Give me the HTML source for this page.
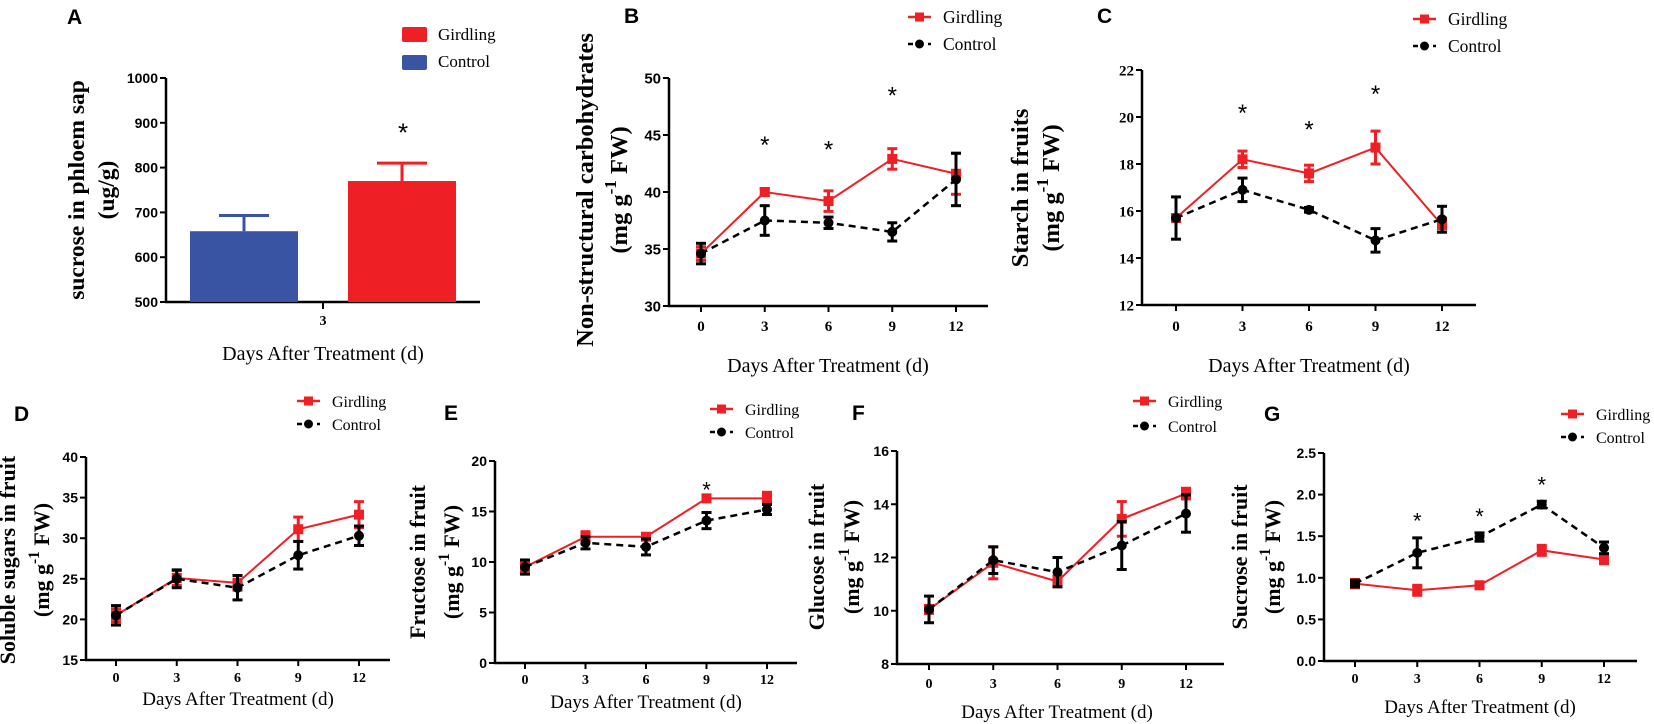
<!DOCTYPE html>
<html><head><meta charset="utf-8"><style>
html,body{margin:0;padding:0;background:#fff;}
svg{display:block;}
</style></head><body>
<svg id="fig" width="1654" height="724" viewBox="0 0 1654 724" xmlns="http://www.w3.org/2000/svg"></svg>
<script>
// ---------- data ----------
const days = [0, 3, 6, 9, 12];
// A
const aCats = ["Control", "Girdling"];
const aVals = [658, 770];
const aErr = [35, 40];
const aStarVal = 890;
const aTicks = [500, 600, 700, 800, 900, 1000];
// B
const bGird = [34.6, 40.0, 39.2, 42.9, 41.6];
const bGirdErr = [0.6, 0.3, 0.9, 0.9, 1.8];
const bCtrl = [34.6, 37.5, 37.3, 36.5, 41.1];
const bCtrlErr = [0.9, 1.3, 0.5, 0.8, 2.3];
const bStarDays = [3, 6, 9];
const bStarVals = [44.6, 44.2, 48.9];
const bTicks = [30, 35, 40, 45, 50];
// C
const cGird = [15.7, 18.2, 17.6, 18.7, 15.4];
const cGirdErr = [0.1, 0.35, 0.35, 0.7, 0.3];
const cCtrl = [15.7, 16.9, 16.05, 14.75, 15.65];
const cCtrlErr = [0.9, 0.5, 0.1, 0.5, 0.55];
const cStarDays = [3, 6, 9];
const cStarVals = [20.4, 19.7, 21.2];
const cTicks = [12, 14, 16, 18, 20, 22];
// D
const dGird = [20.5, 25.1, 24.5, 31.1, 32.9];
const dGirdErr = [0.8, 0.9, 0.9, 1.5, 1.6];
const dCtrl = [20.5, 25.0, 23.9, 27.9, 30.3];
const dCtrlErr = [1.2, 1.1, 1.5, 1.7, 1.2];
const dStarDays = [];
const dStarVals = [];
const dTicks = [15, 20, 25, 30, 35, 40];
// E
const eGird = [9.5, 12.5, 12.5, 16.3, 16.3];
const eGirdErr = [0.4, 0.5, 0.3, 0.3, 0.6];
const eCtrl = [9.5, 11.9, 11.5, 14.1, 15.2];
const eCtrlErr = [0.7, 0.6, 0.8, 0.8, 0.5];
const eStarDays = [9];
const eStarVals = [17.6];
const eTicks = [0, 5, 10, 15, 20];
// F
const fGird = [10.05, 11.8, 11.1, 13.45, 14.4];
const fGirdErr = [0.15, 0.6, 0.2, 0.65, 0.2];
const fCtrl = [10.05, 11.9, 11.45, 12.45, 13.65];
const fCtrlErr = [0.5, 0.5, 0.55, 0.9, 0.7];
const fStarDays = [];
const fStarVals = [];
const fTicks = [8, 10, 12, 14, 16];
// G
const gGird = [0.93, 0.85, 0.91, 1.33, 1.22];
const gGirdErr = [0.05, 0.06, 0.04, 0.06, 0.05];
const gCtrl = [0.93, 1.30, 1.49, 1.88, 1.36];
const gCtrlErr = [0.04, 0.18, 0.05, 0.04, 0.07];
const gStarDays = [3, 6, 9];
const gStarVals = [1.74, 1.79, 2.17];
const gTicks = ["0.0", "0.5", "1.0", "1.5", "2.0", "2.5"];

// ---------- helpers ----------
const NS = "http://www.w3.org/2000/svg";
const svg = document.getElementById("fig");
const SERIF = '"Liberation Serif", serif';
const SANS = '"Liberation Sans", sans-serif';
const RED = "#ee1f25", BLUE = "#3a54a4";

function mk(tag, parent, name, attrs) {
  const e = document.createElementNS(NS, tag);
  
  
  for (const k in attrs) e.setAttribute(k, attrs[k]);
  parent.appendChild(e);
  return e;
}
function txt(parent, name, x, y, s, size, fam, weight, anchor, extra) {
  const t = mk("text", parent, name, Object.assign({x: x, y: y, "font-size": size, "font-family": fam, "font-weight": weight || "normal", "text-anchor": anchor || "middle", fill: "#000"}, extra || {}));
  t.textContent = s;
  return t;
}
function ylabel(parent, name, cx, cy, size, main, unit) {
  const t = mk("text", parent, name, {transform: "translate(" + cx + "," + cy + ") rotate(-90)", "font-size": size, "font-family": SERIF, "font-weight": "bold", "text-anchor": "middle", fill: "#000"});
  if (unit) {
    const a = mk("tspan", t, "unit-part", {}); a.textContent = "(mg g";
    const b = mk("tspan", t, "unit-superscript", {dy: -size * 0.45, "font-size": size * 0.7}); b.textContent = "-1";
    const c = mk("tspan", t, "unit-part", {dy: size * 0.45}); c.textContent = " FW)";
  } else t.textContent = main;
  return t;
}
function legend(parent, lx, gBase, cBase, size) {
  const lg = mk("g", parent, "legend", {});
  const y1 = gBase - 6, y2 = cBase - 6;
  mk("line", lg, "legend-girdling-line", {x1: lx, y1: y1, x2: lx + 23, y2: y1, stroke: RED, "stroke-width": 2.5});
  mk("rect", lg, "legend-girdling-marker", {x: lx + 7, y: y1 - 4.5, width: 9, height: 9, fill: RED});
  txt(lg, "legend-girdling-label", lx + 35, gBase, "Girdling", size, SERIF, "normal", "start");
  mk("line", lg, "legend-control-line", {x1: lx, y1: y2, x2: lx + 23, y2: y2, stroke: "#000", "stroke-width": 2.5, "stroke-dasharray": "5,5"});
  mk("circle", lg, "legend-control-marker", {cx: lx + 11.5, cy: y2, r: 4.5, fill: "#000"});
  txt(lg, "legend-control-label", lx + 35, cBase, "Control", size, SERIF, "normal", "start");
}

function linePanel(p) {
  const g = mk("g", svg, "panel-" + p.id, {});
  const ymin = parseFloat(p.ticks[0]), ymax = parseFloat(p.ticks[p.ticks.length - 1]);
  const Y = v => p.yBot - (v - ymin) / (ymax - ymin) * (p.yBot - p.yTop);
  const X = d => p.x0t + (d - days[0]) / (days[days.length - 1] - days[0]) * (p.x12t - p.x0t);
  txt(g, "panel-letter-" + p.id, p.lx, p.ly, p.id, p.lsize, SANS, "bold", "start");
  mk("line", g, "y-axis", {x1: p.ax, y1: p.yTop, x2: p.ax, y2: p.yBot + 1, stroke: "#000", "stroke-width": 2.5});
  mk("line", g, "x-axis", {x1: p.ax - 1, y1: p.yBot, x2: p.axEnd, y2: p.yBot, stroke: "#000", "stroke-width": 2.5});
  p.ticks.forEach(t => {
    const v = parseFloat(t), y = Y(v);
    mk("line", g, "y-tick", {x1: p.ax - 6, y1: y, x2: p.ax, y2: y, stroke: "#000", "stroke-width": 2});
    txt(g, "y-tick-label", p.ax - 8, y + p.tsize * 0.36, String(t), p.tsize, p.yfam, "bold", "end");
  });
  days.forEach(d => {
    const x = X(d);
    mk("line", g, "x-tick", {x1: x, y1: p.yBot, x2: x, y2: p.yBot + 6, stroke: "#000", "stroke-width": 2});
    txt(g, "x-tick-label", x, p.tickBase, String(d), p.tsize, SERIF, "bold", "middle");
  });
  txt(g, "x-axis-title", p.titleX, p.titleBase, "Days After Treatment (d)", p.titleSize, SERIF, "normal", "middle");
  ylabel(g, "y-axis-title", p.yl1x, p.ylcy, p.ylsize, p.ylText, false);
  ylabel(g, "y-axis-unit", p.yl2x, p.ylcy, p.ylsize, "", true);
  function series(vals, errs, color, dashed, marker, name) {
    const sg = mk("g", g, "series-" + name, {});
    const pts = days.map((d, i) => X(d) + "," + Y(vals[i])).join(" ");
    const la = {points: pts, fill: "none", stroke: color, "stroke-width": dashed ? 2.5 : 2};
    if (dashed) la["stroke-dasharray"] = "7,5";
    mk("polyline", sg, "line-" + name, la);
    days.forEach((d, i) => {
      const x = X(d), yt = Y(vals[i] + errs[i]), yb = Y(vals[i] - errs[i]);
      mk("line", sg, "error-bar", {x1: x, y1: yt, x2: x, y2: yb, stroke: color, "stroke-width": 3});
      mk("line", sg, "error-cap", {x1: x - 5, y1: yt, x2: x + 5, y2: yt, stroke: color, "stroke-width": 3});
      mk("line", sg, "error-cap", {x1: x - 5, y1: yb, x2: x + 5, y2: yb, stroke: color, "stroke-width": 3});
      if (marker === "square") mk("rect", sg, "point-" + name + "-day" + d, {x: x - 5, y: Y(vals[i]) - 5, width: 10, height: 10, fill: color});
      else mk("circle", sg, "point-" + name + "-day" + d, {cx: x, cy: Y(vals[i]), r: 5, fill: color});
    });
  }
  series(p.gird, p.girdErr, RED, false, "square", "girdling");
  series(p.ctrl, p.ctrlErr, "#000", true, "circle", "control");
  p.starDays.forEach((d, i) => {
    txt(g, "significance-star", X(d), Y(p.starVals[i]) + p.starSize * 0.55, "*", p.starSize, SANS, "normal", "middle");
  });
  legend(g, p.legX, p.legG, p.legC, p.legSize);
}

// ---------- panel A ----------
(function () {
  const g = mk("g", svg, "panel-A", {});
  const yTop = 78, yBot = 302, ax = 166, axEnd = 480;
  const Y = v => yBot - (v - aTicks[0]) / (aTicks[aTicks.length - 1] - aTicks[0]) * (yBot - yTop);
  txt(g, "panel-letter-A", 67, 24, "A", 21, SANS, "bold", "start");
  mk("line", g, "y-axis", {x1: ax, y1: yTop, x2: ax, y2: yBot + 1, stroke: "#000", "stroke-width": 2.5});
  mk("line", g, "x-axis", {x1: ax - 1, y1: yBot, x2: axEnd, y2: yBot, stroke: "#000", "stroke-width": 2.5});
  aTicks.forEach(t => {
    const y = Y(t);
    mk("line", g, "y-tick", {x1: ax - 6, y1: y, x2: ax, y2: y, stroke: "#000", "stroke-width": 2});
    txt(g, "y-tick-label", ax - 8, y + 5, String(t), 14, SANS, "bold", "end");
  });
  mk("line", g, "x-tick", {x1: 323, y1: yBot, x2: 323, y2: yBot + 7, stroke: "#000", "stroke-width": 2});
  txt(g, "x-tick-label", 323, 325, "3", 14, SERIF, "bold", "middle");
  const barX = [190, 348], barW = 108, colors = [BLUE, RED];
  aVals.forEach((v, i) => {
    const cx = barX[i] + barW / 2;
    mk("line", g, "error-bar-" + aCats[i].toLowerCase(), {x1: cx, y1: Y(v), x2: cx, y2: Y(v + aErr[i]), stroke: colors[i], "stroke-width": 3});
    mk("line", g, "error-cap-" + aCats[i].toLowerCase(), {x1: cx - 25, y1: Y(v + aErr[i]), x2: cx + 25, y2: Y(v + aErr[i]), stroke: colors[i], "stroke-width": 3});
    mk("rect", g, "bar-" + aCats[i].toLowerCase(), {x: barX[i], y: Y(v), width: barW, height: yBot - Y(v), fill: colors[i]});
  });
  txt(g, "significance-star", 403, Y(aStarVal) + 14, "*", 26, SANS, "normal", "middle");
  txt(g, "x-axis-title", 323, 360, "Days After Treatment (d)", 20, SERIF, "normal", "middle");
  ylabel(g, "y-axis-title", 84, 190, 23.5, "sucrose  in phloem sap", false);
  ylabel(g, "y-axis-unit", 114, 190, 23.5, "(ug/g)", false);
  const lg = mk("g", g, "legend", {});
  mk("rect", lg, "legend-girdling-swatch", {x: 402, y: 27, width: 25, height: 15, rx: 2, fill: RED});
  txt(lg, "legend-girdling-label", 438, 40, "Girdling", 17, SERIF, "normal", "start");
  mk("rect", lg, "legend-control-swatch", {x: 402, y: 55, width: 25, height: 15, rx: 2, fill: BLUE});
  txt(lg, "legend-control-label", 438, 67, "Control", 17, SERIF, "normal", "start");
})();

// ---------- line panels ----------
linePanel({id: "B", lx: 624, ly: 23, lsize: 21, ax: 669, axEnd: 988, yTop: 78, yBot: 306, ticks: bTicks, x0t: 701, x12t: 956,
  tsize: 15, yfam: SANS, tickBase: 331, titleX: 828, titleBase: 372, titleSize: 20,
  yl1x: 593, yl2x: 627, ylcy: 190, ylsize: 24.5, ylText: "Non-structural carbohydrates",
  gird: bGird, girdErr: bGirdErr, ctrl: bCtrl, ctrlErr: bCtrlErr, starDays: bStarDays, starVals: bStarVals, starSize: 24,
  legX: 908, legG: 23, legC: 50, legSize: 17.5});
linePanel({id: "C", lx: 1097, ly: 23, lsize: 21, ax: 1142, axEnd: 1476, yTop: 70, yBot: 305, ticks: cTicks, x0t: 1176, x12t: 1442,
  tsize: 15, yfam: SERIF, tickBase: 331, titleX: 1309, titleBase: 372, titleSize: 20,
  yl1x: 1028, yl2x: 1059, ylcy: 188, ylsize: 24.5, ylText: "Starch in fruits",
  gird: cGird, girdErr: cGirdErr, ctrl: cCtrl, ctrlErr: cCtrlErr, starDays: cStarDays, starVals: cStarVals, starSize: 24,
  legX: 1413, legG: 25, legC: 52, legSize: 17.5});
linePanel({id: "D", lx: 14, ly: 421, lsize: 21, ax: 86, axEnd: 390, yTop: 457, yBot: 660, ticks: dTicks, x0t: 116, x12t: 359,
  tsize: 14, yfam: SANS, tickBase: 682, titleX: 238, titleBase: 705, titleSize: 19,
  yl1x: 15, yl2x: 49, ylcy: 560, ylsize: 22, ylText: "Soluble sugars in fruit",
  gird: dGird, girdErr: dGirdErr, ctrl: dCtrl, ctrlErr: dCtrlErr, starDays: dStarDays, starVals: dStarVals, starSize: 22,
  legX: 297, legG: 407, legC: 430, legSize: 16});
linePanel({id: "E", lx: 444, ly: 420, lsize: 21, ax: 495, axEnd: 797, yTop: 461, yBot: 663, ticks: eTicks, x0t: 525, x12t: 767,
  tsize: 14, yfam: SANS, tickBase: 684, titleX: 646, titleBase: 708, titleSize: 19,
  yl1x: 425, yl2x: 459, ylcy: 562, ylsize: 22, ylText: "Fructose in fruit",
  gird: eGird, girdErr: eGirdErr, ctrl: eCtrl, ctrlErr: eCtrlErr, starDays: eStarDays, starVals: eStarVals, starSize: 22,
  legX: 710, legG: 415, legC: 438, legSize: 16});
linePanel({id: "F", lx: 852, ly: 420, lsize: 21, ax: 897, axEnd: 1224, yTop: 451, yBot: 664, ticks: fTicks, x0t: 929, x12t: 1186,
  tsize: 14, yfam: SANS, tickBase: 688, titleX: 1057, titleBase: 718, titleSize: 19,
  yl1x: 824, yl2x: 859, ylcy: 557, ylsize: 22, ylText: "Glucose in fruit",
  gird: fGird, girdErr: fGirdErr, ctrl: fCtrl, ctrlErr: fCtrlErr, starDays: fStarDays, starVals: fStarVals, starSize: 22,
  legX: 1133, legG: 407, legC: 432, legSize: 16});
linePanel({id: "G", lx: 1264, ly: 421, lsize: 21, ax: 1324, axEnd: 1637, yTop: 453, yBot: 661, ticks: gTicks, x0t: 1355, x12t: 1604,
  tsize: 14, yfam: SANS, tickBase: 683, titleX: 1480, titleBase: 713, titleSize: 19,
  yl1x: 1247, yl2x: 1280, ylcy: 557, ylsize: 22, ylText: "Sucrose in fruit",
  gird: gGird, girdErr: gGirdErr, ctrl: gCtrl, ctrlErr: gCtrlErr, starDays: gStarDays, starVals: gStarVals, starSize: 22,
  legX: 1561, legG: 420, legC: 443, legSize: 16});
</script>
</body></html>
